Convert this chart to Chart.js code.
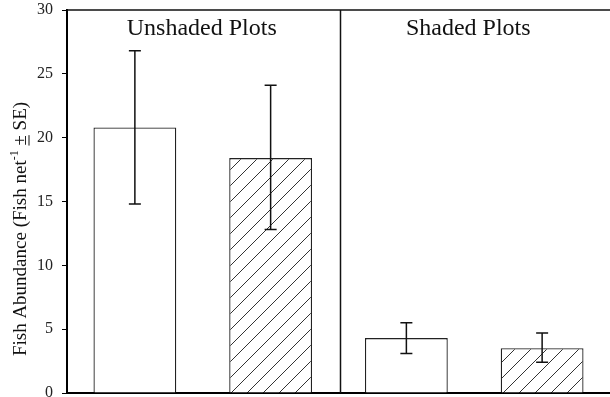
<!DOCTYPE html>
<html>
<head>
<meta charset="utf-8">
<script src="https://cdn.jsdelivr.net/npm/chart.js@4.4.1/dist/chart.umd.min.js"></script>
<style>
  html, body { margin: 0; padding: 0; background: #fff; }
  #wrap { width: 610px; height: 397px; }
</style>
</head>
<body>
<div id="wrap"><canvas id="fishChart"></canvas></div>
<script>
// Fish abundance by plot (means with SE bars)
const categories = ['Unshaded A', 'Unshaded B', 'Shaded A', 'Shaded B'];
const means = [20.8, 18.4, 4.3, 3.5];
const errUpper = [26.8, 24.1, 5.5, 4.7];
const errLower = [14.8, 12.8, 3.1, 2.4];
const hatched = [false, true, false, true];
const groupLabels = ['Unshaded Plots', 'Shaded Plots'];
const yTicks = [0, 5, 10, 15, 20, 25, 30];

const SERIF = '"Liberation Serif", "DejaVu Serif", serif';

// diagonal hatch fill
function makeHatch() {
    const c = document.createElement('canvas');
    c.width = 16; c.height = 16;
    const g = c.getContext('2d');
    g.fillStyle = '#fff';
    g.fillRect(0, 0, 16, 16);
    g.strokeStyle = '#333';
    g.lineWidth = 1;
    g.beginPath();
    g.moveTo(-4, 20); g.lineTo(20, -4);
    g.moveTo(-4, 4); g.lineTo(4, -4);
    g.moveTo(12, 20); g.lineTo(20, 12);
    g.stroke();
    return g.createPattern(c, 'repeat');
}
const hatch = makeHatch();

// error bars, panel frame, divider and panel labels
const decorations = {
    id: 'decorations',
    afterDatasetsDraw(chart) {
        const ctx = chart.ctx;
        const x = chart.scales.x, y = chart.scales.y;
        const area = chart.chartArea;
        ctx.save();
        ctx.strokeStyle = '#111';
        ctx.lineWidth = 1.5;
        means.forEach((m, i) => {
            const px = x.getPixelForValue(i);
            const top = y.getPixelForValue(errUpper[i]);
            const bot = y.getPixelForValue(errLower[i]);
            ctx.beginPath();
            ctx.moveTo(px, top); ctx.lineTo(px, bot);
            ctx.moveTo(px - 6, top); ctx.lineTo(px + 6, top);
            ctx.moveTo(px - 6, bot); ctx.lineTo(px + 6, bot);
            ctx.stroke();
        });
        // top frame line and group divider
        ctx.lineWidth = 1.5;
        ctx.beginPath();
        ctx.moveTo(area.left, area.top); ctx.lineTo(area.right, area.top);
        const mid = (x.getPixelForValue(1) + x.getPixelForValue(2)) / 2 + 2;
        ctx.moveTo(mid, area.top); ctx.lineTo(mid, area.bottom);
        ctx.stroke();
        // group labels
        ctx.fillStyle = '#111';
        ctx.font = '24px ' + SERIF;
        ctx.textAlign = 'center';
        ctx.textBaseline = 'alphabetic';
        ctx.fillText(groupLabels[0], (x.getPixelForValue(0) + x.getPixelForValue(1)) / 2 - 1, 35);
        ctx.fillText(groupLabels[1], (x.getPixelForValue(2) + x.getPixelForValue(3)) / 2 - 6, 35);
        // y axis title with superscript and underlined plus-minus
        ctx.translate(26, 229);
        ctx.rotate(-Math.PI / 2);
        const f = '19px ' + SERIF, fs = '12px ' + SERIF;
        const p1 = 'Fish Abundance (Fish net', p2 = '-1', p3 = ' ', p4 = '\u00b1', p5 = ' SE)';
        ctx.font = f; const w1 = ctx.measureText(p1).width;
        ctx.font = fs; const w2 = ctx.measureText(p2).width;
        ctx.font = f;
        const w3 = ctx.measureText(p3).width, w4 = ctx.measureText(p4).width, w5 = ctx.measureText(p5).width;
        let cx = -(w1 + w2 + w3 + w4 + w5) / 2;
        ctx.textAlign = 'left';
        ctx.fillText(p1, cx, 0); cx += w1;
        ctx.font = fs; ctx.fillText(p2, cx, -8); cx += w2;
        ctx.font = f; cx += w3;
        ctx.fillText(p4, cx, 0);
        ctx.lineWidth = 1;
        ctx.beginPath(); ctx.moveTo(cx, 3); ctx.lineTo(cx + w4, 3); ctx.stroke();
        cx += w4;
        ctx.fillText(p5, cx, 0);
        ctx.restore();
    }
};

new Chart(document.getElementById('fishChart'), {
    type: 'bar',
    data: {
        labels: categories,
        datasets: [{
            data: means,
            backgroundColor: hatched.map(h => h ? hatch : '#fff'),
            borderColor: '#222',
            borderWidth: 1.3,
            barPercentage: 0.61,
            categoryPercentage: 1
        }]
    },
    options: {
        responsive: true,
        maintainAspectRatio: false,
        animation: false,
        layout: { padding: { top: 10, right: 0, bottom: 4, left: 0 } },
        plugins: { legend: { display: false }, tooltip: { enabled: false } },
        scales: {
            x: {
                afterFit(scale) { scale.height = 0; scale.paddingLeft = 0; scale.paddingRight = 0; },
                ticks: { display: false },
                grid: { display: false, drawTicks: false },
                border: { display: true, color: '#000', width: 2 }
            },
            y: {
                min: 0,
                max: 30,
                afterFit(scale) { scale.width = 67; scale.paddingTop = 0; scale.paddingBottom = 0; },
                afterBuildTicks(scale) { scale.ticks = yTicks.map(v => ({ value: v })); },
                ticks: {
                    padding: 9,
                    color: '#222',
                    font: { family: SERIF, size: 16 }
                },
                grid: {
                    drawOnChartArea: false,
                    drawTicks: true,
                    tickLength: 5,
                    color: '#000'
                },
                border: { display: true, color: '#000', width: 2 }
            }
        }
    },
    plugins: [decorations]
});
</script>
</body>
</html>
